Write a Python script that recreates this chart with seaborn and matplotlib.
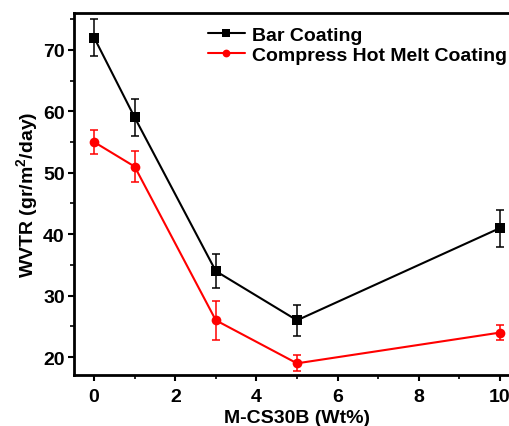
import pandas as pd
import numpy as np
import matplotlib
matplotlib.use('Agg')
import matplotlib.pyplot as plt
import seaborn as sns
from matplotlib.ticker import MultipleLocator

sns.set_style('ticks')
plt.rcParams['font.family'] = ['Liberation Sans', 'DejaVu Sans']
plt.rcParams['font.weight'] = 'bold'
plt.rcParams['mathtext.fontset'] = 'custom'
plt.rcParams['mathtext.rm'] = 'Liberation Sans:bold'
plt.rcParams['mathtext.default'] = 'rm'
for k in ['text.color', 'axes.labelcolor', 'xtick.color', 'ytick.color', 'axes.edgecolor']:
    plt.rcParams[k] = 'black'

# data
wt = [0, 1, 3, 5, 10]
bar_wvtr = [72, 59, 34, 26, 41]
bar_err = [3.0, 3.0, 2.8, 2.5, 3.0]
hot_wvtr = [55, 51, 26, 19, 24]
hot_err = [2.0, 2.5, 3.2, 1.3, 1.2]

df = pd.DataFrame({
    'wt': wt * 2,
    'wvtr': bar_wvtr + hot_wvtr,
    'err': bar_err + hot_err,
    'method': ['Bar Coating'] * 5 + ['Compress Hot Melt Coating'] * 5,
})
colors = {'Bar Coating': 'black', 'Compress Hot Melt Coating': '#ff0000'}
markers = {'Bar Coating': 's', 'Compress Hot Melt Coating': 'o'}

fig = plt.figure(figsize=(5.09, 4.27), dpi=100)
ax = fig.add_axes([0.145, 0.1194, 0.877, 0.848])

for m, sub in df.groupby('method', sort=False):
    ax.errorbar(sub['wt'], sub['wvtr'], yerr=sub['err'], fmt='none',
                ecolor=colors[m], elinewidth=1.1, capsize=3, capthick=1.1, zorder=2)

sns.lineplot(data=df, x='wt', y='wvtr', hue='method', style='method',
             palette=colors, markers=markers, dashes=False, markersize=7,
             markeredgewidth=0, linewidth=1.5, ax=ax, zorder=3)

ax.set_xlim(-0.5, 10.5)
ax.set_ylim(17.1, 76)
ax.xaxis.set_major_locator(MultipleLocator(2))
ax.xaxis.set_minor_locator(MultipleLocator(1))
ax.yaxis.set_major_locator(MultipleLocator(10))
ax.yaxis.set_minor_locator(MultipleLocator(5))
ax.tick_params(which='major', direction='out', length=4.5, width=1.5, labelsize=14, pad=2)
ax.tick_params(axis='x', which='major', pad=5)
ax.tick_params(which='minor', direction='out', length=3, width=1.2)
for lab in ax.get_xticklabels() + ax.get_yticklabels():
    lab.set_fontweight('bold')
for s in ax.spines.values():
    s.set_linewidth(2)

ax.set_xlabel('M-CS30B (Wt%)', fontsize=14, fontweight='bold', labelpad=3)
ax.set_ylabel(r'WVTR (gr/m$^2$/day)', fontsize=14, fontweight='bold', labelpad=2)

leg = ax.legend(loc='upper left', bbox_to_anchor=(0.30, 0.963), frameon=False,
                prop={'weight': 'bold', 'size': 14}, handlelength=1.9,
                handletextpad=0.4, labelspacing=0.12, borderaxespad=0,
                borderpad=0, markerscale=0.8)

fig.savefig('out.png', dpi=100)
